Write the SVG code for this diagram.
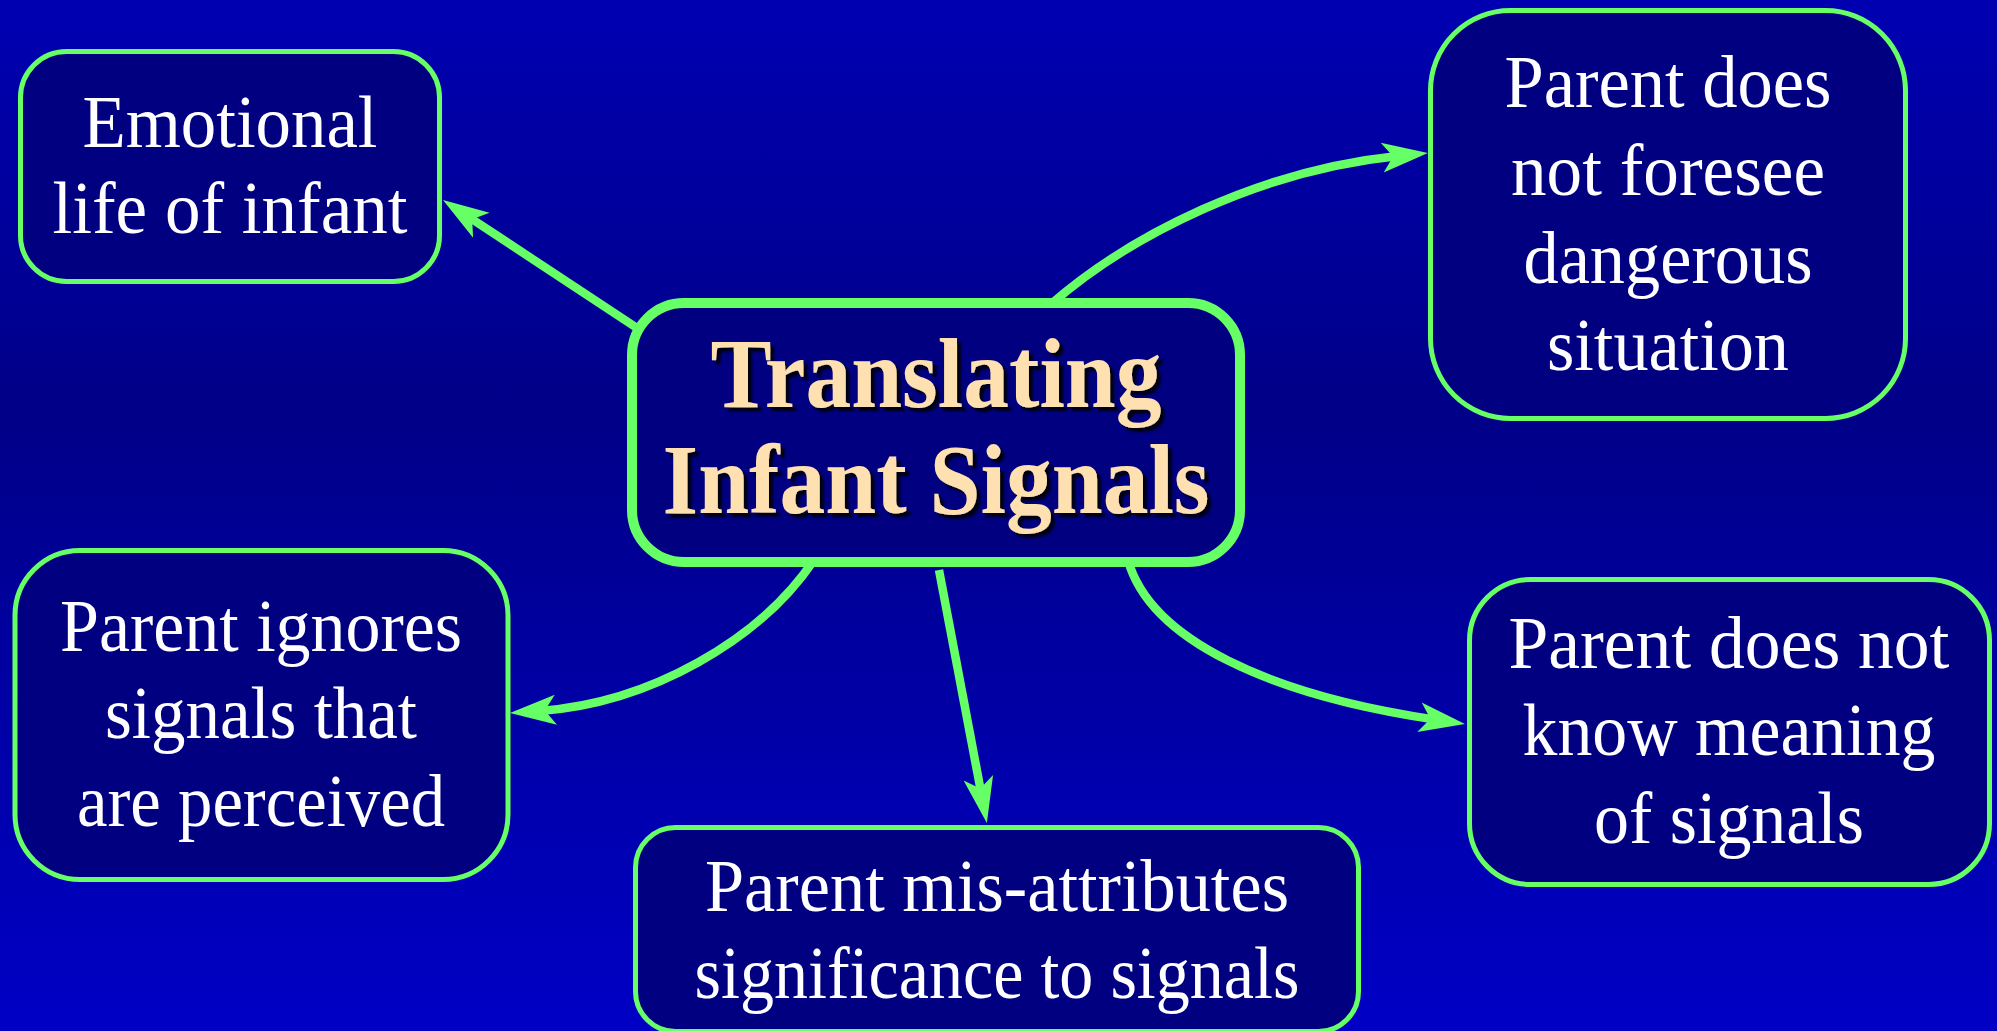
<svg xmlns="http://www.w3.org/2000/svg" width="1997" height="1031" viewBox="0 0 1997 1031">
  <defs>
    <linearGradient id="bg" x1="0" y1="0" x2="0" y2="1">
      <stop offset="0" stop-color="#0000B2"/>
      <stop offset="0.4" stop-color="#000088"/>
      <stop offset="1" stop-color="#0000C6"/>
    </linearGradient>
    <marker id="arrow" markerUnits="userSpaceOnUse" markerWidth="60" markerHeight="40" refX="0" refY="0" orient="auto" overflow="visible">
      <path d="M30,0 L-16,-15 L-5,0 L-16,15 Z" fill="#66FF66"/>
    </marker>
    <filter id="shadow" x="-10%" y="-10%" width="120%" height="130%">
      <feDropShadow dx="4" dy="4" stdDeviation="1" flood-color="#000000" flood-opacity="0.85"/>
    </filter>
  </defs>
  <style>
    .box { fill: #000080; stroke: #66FF66; stroke-width: 5; }
    .main { fill: #000080; stroke: #66FF66; stroke-width: 10; }
    .lbl { font-family: "Liberation Serif", "Times New Roman", serif; font-size: 75px; fill: #FFFFFF; text-anchor: middle; }
    .title { font-family: "Liberation Serif", "Times New Roman", serif; font-size: 100px; font-weight: bold; fill: #FFE0B0; text-anchor: middle; filter: url(#shadow); }
    .conn { fill: none; stroke: #66FF66; stroke-width: 8.5; stroke-linecap: butt; marker-end: url(#arrow); }
  </style>

  <rect x="0" y="0" width="1997" height="1031" fill="url(#bg)"/>

  <g id="connectors">
    <path class="conn" d="M640,330 L468,216.5"/>
    <path class="conn" d="M1050,305 C1130,235 1260,170 1398.1,156"/>
    <path class="conn" d="M814,560 C760,640 650,703 539.9,710.9"/>
    <path class="conn" d="M939,570 L981.3,793.5"/>
    <path class="conn" d="M1128,560 C1150,640 1270,695 1435.3,719.6"/>
  </g>

  <g id="center">
    <rect class="main" x="632" y="303" width="608" height="259" rx="52"/>
    <text class="title" x="936" y="407" textLength="451" lengthAdjust="spacingAndGlyphs">Translating</text>
    <text class="title" x="936" y="513" textLength="547" lengthAdjust="spacingAndGlyphs">Infant Signals</text>
  </g>

  <g id="emotional">
    <rect class="box" x="20.5" y="51.5" width="419" height="230" rx="46"/>
    <text class="lbl" x="230" y="147" textLength="295" lengthAdjust="spacingAndGlyphs">Emotional</text>
    <text class="lbl" x="230" y="233" textLength="355" lengthAdjust="spacingAndGlyphs">life of infant</text>
  </g>

  <g id="foresee">
    <rect class="box" x="1430.5" y="10.5" width="475" height="408" rx="80"/>
    <text class="lbl" x="1668" y="107" textLength="327" lengthAdjust="spacingAndGlyphs">Parent does</text>
    <text class="lbl" x="1668" y="195" textLength="314" lengthAdjust="spacingAndGlyphs">not foresee</text>
    <text class="lbl" x="1668" y="283" textLength="289" lengthAdjust="spacingAndGlyphs">dangerous</text>
    <text class="lbl" x="1668" y="370" textLength="242" lengthAdjust="spacingAndGlyphs">situation</text>
  </g>

  <g id="ignores">
    <rect class="box" x="15" y="550.5" width="493" height="329" rx="65"/>
    <text class="lbl" x="261" y="651" textLength="402" lengthAdjust="spacingAndGlyphs">Parent ignores</text>
    <text class="lbl" x="261" y="738" textLength="312" lengthAdjust="spacingAndGlyphs">signals that</text>
    <text class="lbl" x="261" y="826" textLength="368" lengthAdjust="spacingAndGlyphs">are perceived</text>
  </g>

  <g id="misattributes">
    <rect class="box" x="635.5" y="827.5" width="723" height="204" rx="40"/>
    <text class="lbl" x="997" y="911" textLength="584" lengthAdjust="spacingAndGlyphs">Parent mis-attributes</text>
    <text class="lbl" x="997" y="998" textLength="605" lengthAdjust="spacingAndGlyphs">significance to signals</text>
  </g>

  <g id="meaning">
    <rect class="box" x="1469.5" y="579.5" width="520" height="305" rx="61"/>
    <text class="lbl" x="1729" y="668" textLength="441" lengthAdjust="spacingAndGlyphs">Parent does not</text>
    <text class="lbl" x="1729" y="755" textLength="413" lengthAdjust="spacingAndGlyphs">know meaning</text>
    <text class="lbl" x="1729" y="843" textLength="270" lengthAdjust="spacingAndGlyphs">of signals</text>
  </g>
</svg>
